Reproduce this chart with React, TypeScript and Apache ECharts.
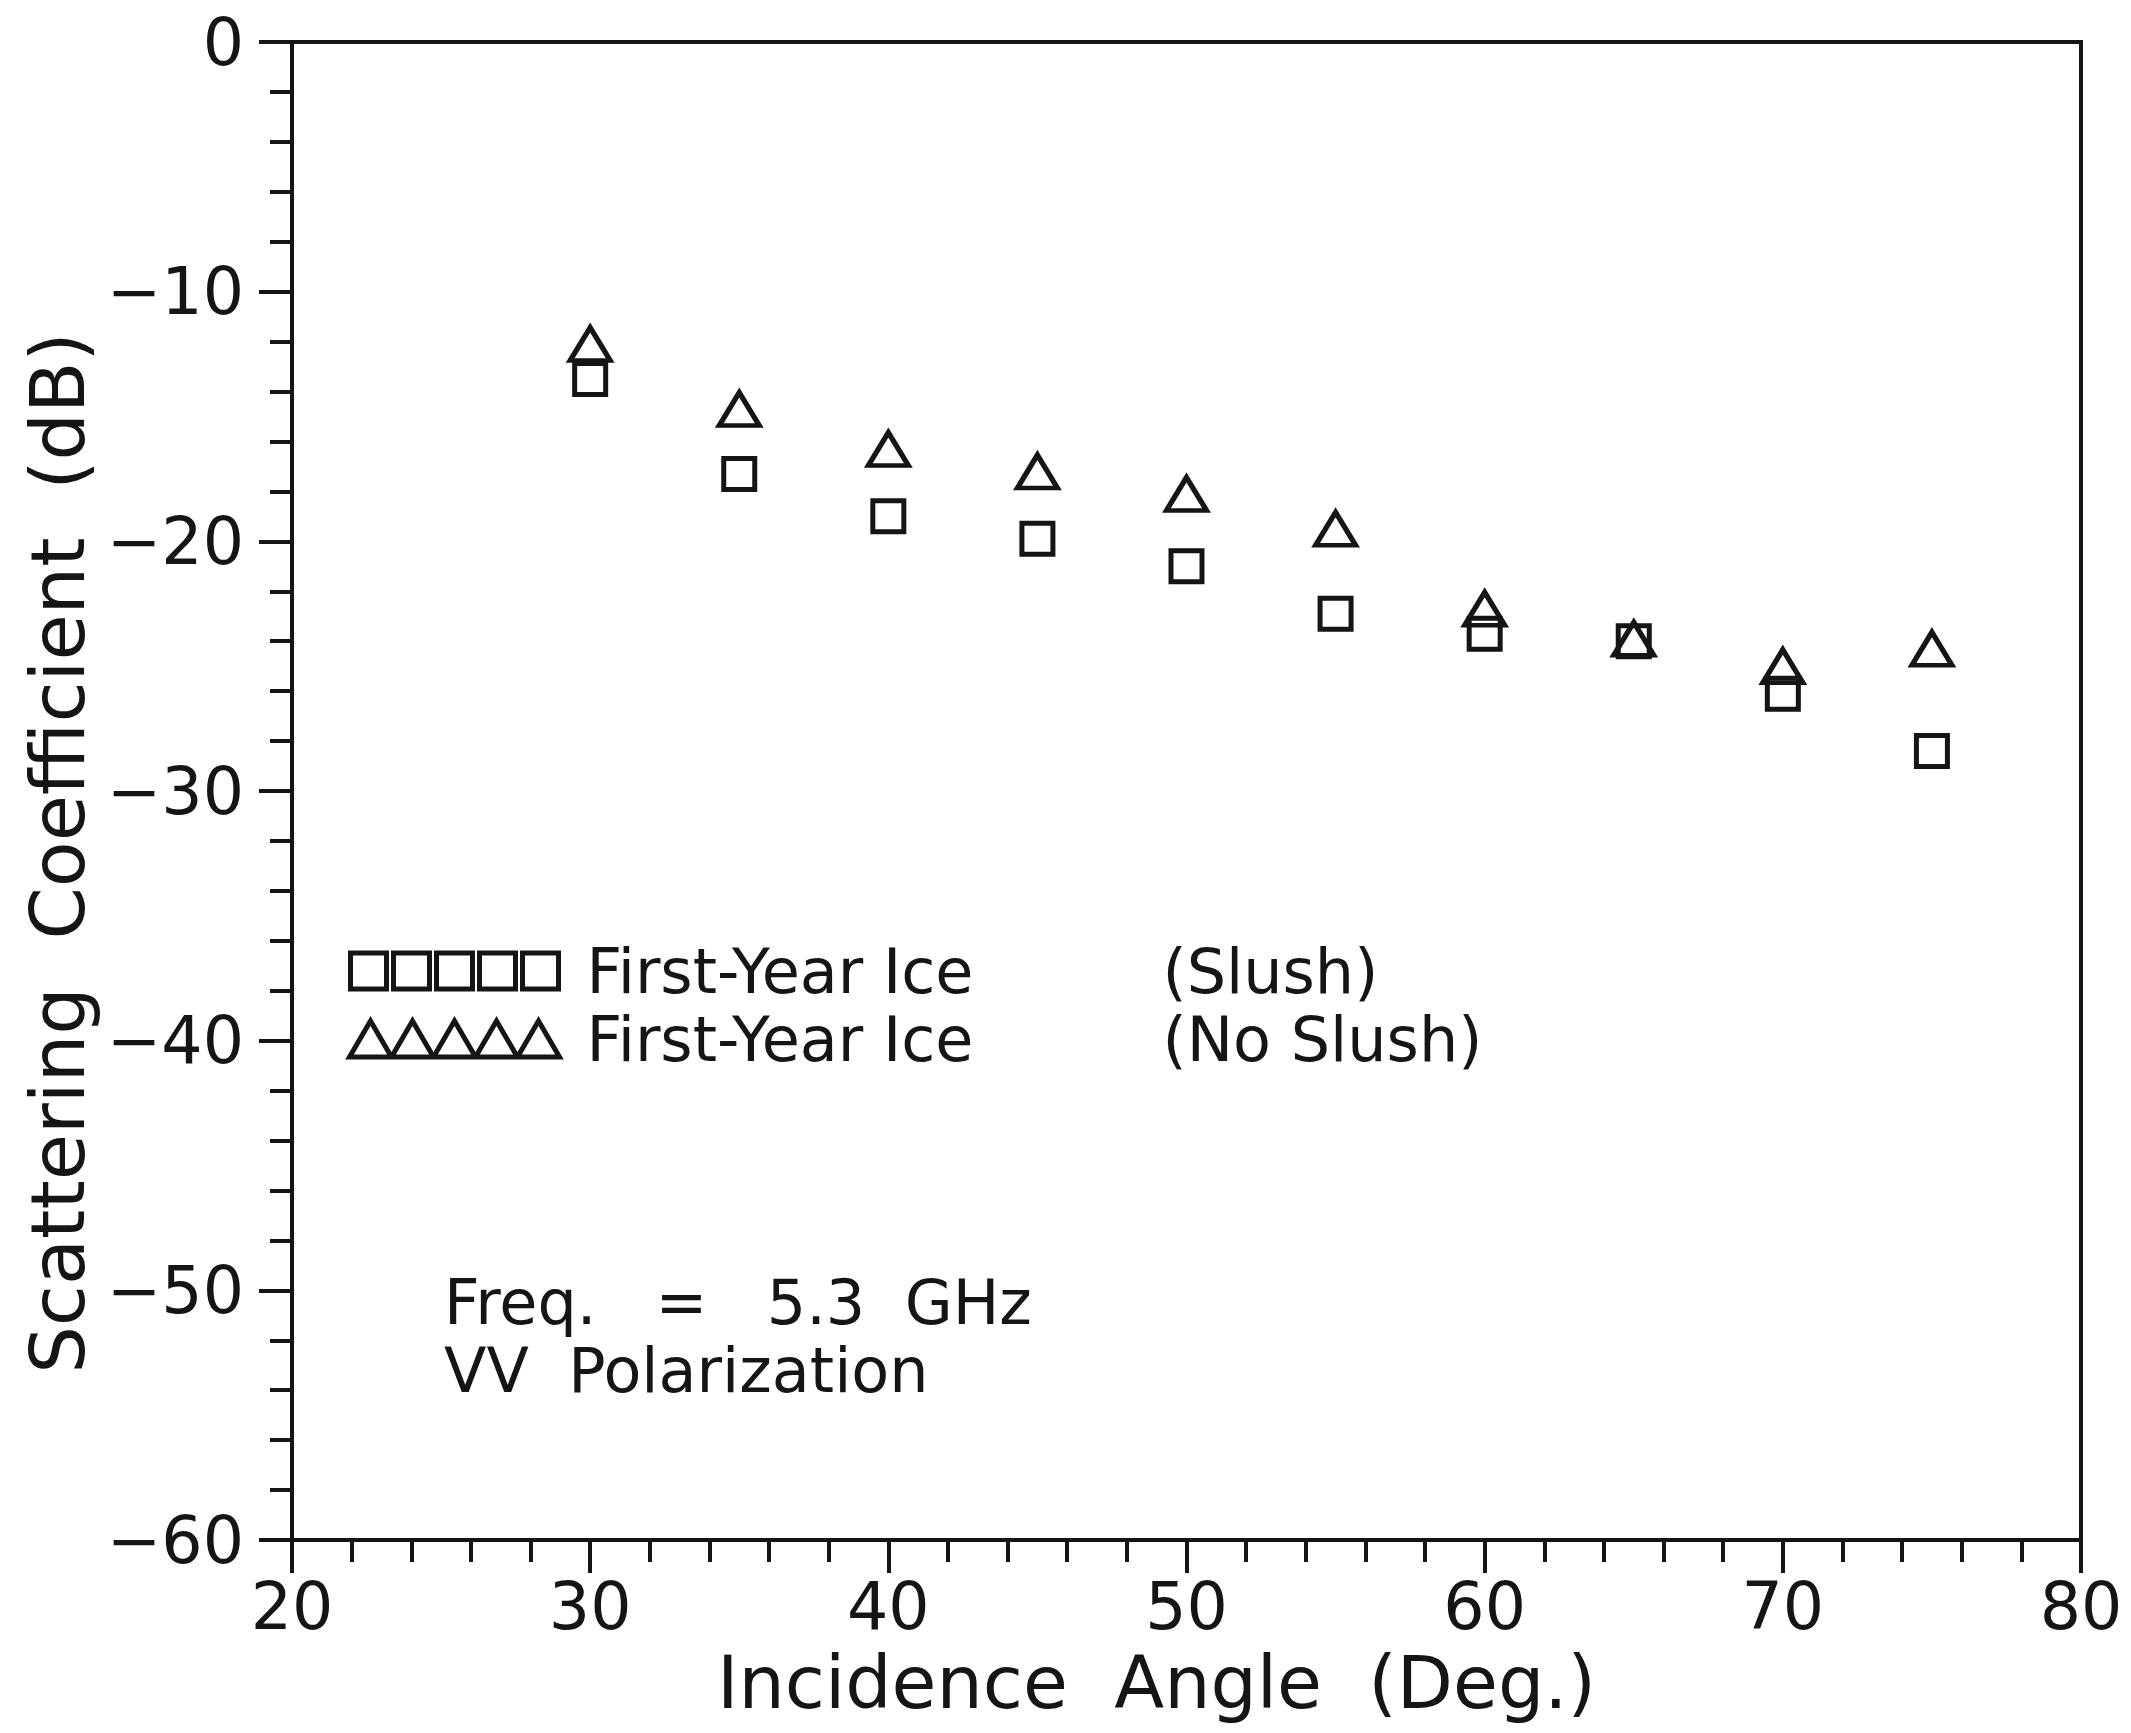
import React, { useEffect, useRef } from "react";
import * as echarts from "echarts";

const angles = [30, 35, 40, 45, 50, 55, 60, 65, 70, 75];
const slushValues = [-13.5, -17.3, -19.0, -19.9, -21.0, -22.9, -23.7, -24.0, -26.1, -28.4];
const noSlushValues = [-12.1, -14.7, -16.3, -17.2, -18.1, -19.5, -22.7, -23.9, -25.0, -24.3];
const seriesNames = ["First-Year Ice (Slush)", "First-Year Ice (No Slush)"];
const annotationLines = ["Freq.   =   5.3  GHz", "VV  Polarization"];

const INK = "#151515";
const FONT = "DejaVu Sans";

const squaresIcon =
  "path://M0 0H36V36H0Z M43 0H79V36H43Z M86 0H122V36H86Z M129 0H165V36H129Z M172 0H208V36H172Z";
const trianglesIcon =
  "path://M0 36L21 0L42 36Z M42 36L63 0L84 36Z M84 36L105 0L126 36Z M126 36L147 0L168 36Z M168 36L189 0L210 36Z";

export default function App() {
  const ref = useRef<HTMLDivElement>(null);
  useEffect(() => {
    if (!ref.current) return;
    const chart = echarts.init(ref.current, undefined, { renderer: "svg" });
    const axisCommon = {
      type: "value" as const,
      interval: 10,
      splitLine: { show: false },
      axisLine: { show: true, onZero: false, lineStyle: { color: INK, width: 4 } },
      axisTick: { show: true, inside: false, length: 33, lineStyle: { color: INK, width: 4 } },
      minorTick: { show: true, splitNumber: 5, length: 22, lineStyle: { color: INK, width: 4 } },
      minorSplitLine: { show: false },
    };
    chart.setOption({
      animation: false,
      backgroundColor: "#fff",
      textStyle: { fontFamily: FONT, color: INK },
      grid: {
        left: 292,
        right: 50,
        top: 42,
        bottom: 193,
        show: true,
        borderColor: INK,
        borderWidth: 4,
        backgroundColor: "transparent",
      },
      xAxis: {
        ...axisCommon,
        min: 20,
        max: 80,
        axisLabel: { fontSize: 65, color: INK, margin: 34, fontFamily: FONT },
        name: "Incidence  Angle  (Deg.)",
        nameLocation: "middle",
        nameGap: 106,
        nameTextStyle: { fontSize: 73, color: INK, fontFamily: FONT, padding: [0, 60, 0, 0] },
      },
      yAxis: {
        ...axisCommon,
        min: -60,
        max: 0,
        axisLabel: {
          fontSize: 65,
          color: INK,
          margin: 48,
          fontFamily: FONT,
          formatter: (v: number) => (v === 0 ? "0" : "\u2212" + Math.abs(v)),
        },
        name: "Scattering  Coefficient  (dB)",
        nameLocation: "middle",
        nameGap: 154,
        nameTextStyle: { fontSize: 75, color: INK, fontFamily: FONT, padding: [0, 124, 0, 0] },
      },
      legend: {
        orient: "vertical",
        left: 347,
        top: 940,
        padding: 0,
        itemGap: 6,
        itemWidth: 210,
        itemHeight: 36,
        selectedMode: false,
        itemStyle: { color: "#fff", borderColor: INK, borderWidth: 5, opacity: 1 },
        data: [
          { name: seriesNames[0], icon: squaresIcon },
          { name: seriesNames[1], icon: trianglesIcon },
        ],
        formatter: (name: string) => {
          const idx = name.indexOf("(");
          return "{a|" + name.slice(0, idx).trim() + "}{b|" + name.slice(idx) + "}";
        },
        textStyle: {
          fontFamily: FONT,
          color: INK,
          fontSize: 62,
          lineHeight: 40,
          rich: {
            a: { fontSize: 62, fontFamily: FONT, color: INK, width: 576, padding: [0, 0, 0, 22], lineHeight: 40 },
            b: { fontSize: 62, fontFamily: FONT, color: INK, lineHeight: 40 },
          },
        },
      },
      graphic: annotationLines.map((t, i) => ({
        type: "text",
        left: 444,
        top: 1302 + i * 68 - 31,
        style: { text: t, font: `62px "${FONT}"`, fill: INK },
      })),
      series: [
        {
          name: seriesNames[0],
          type: "scatter",
          symbol: "rect",
          symbolSize: [31, 31],
          itemStyle: { color: "rgba(0,0,0,0)", borderColor: INK, borderWidth: 5, opacity: 1 },
          data: angles.map((a, i) => [a, slushValues[i]]),
          z: 3,
        },
        {
          name: seriesNames[1],
          type: "scatter",
          symbol: "triangle",
          symbolSize: [40, 33],
          itemStyle: { color: "rgba(0,0,0,0)", borderColor: INK, borderWidth: 5, opacity: 1 },
          data: angles.map((a, i) => [a, noSlushValues[i]]),
          z: 4,
        },
      ],
    });
    return () => chart.dispose();
  }, []);
  return (
    <div
      ref={ref}
      style={{ position: "fixed", left: 0, top: 0, width: 2131, height: 1733, background: "#fff" }}
    />
  );
}
